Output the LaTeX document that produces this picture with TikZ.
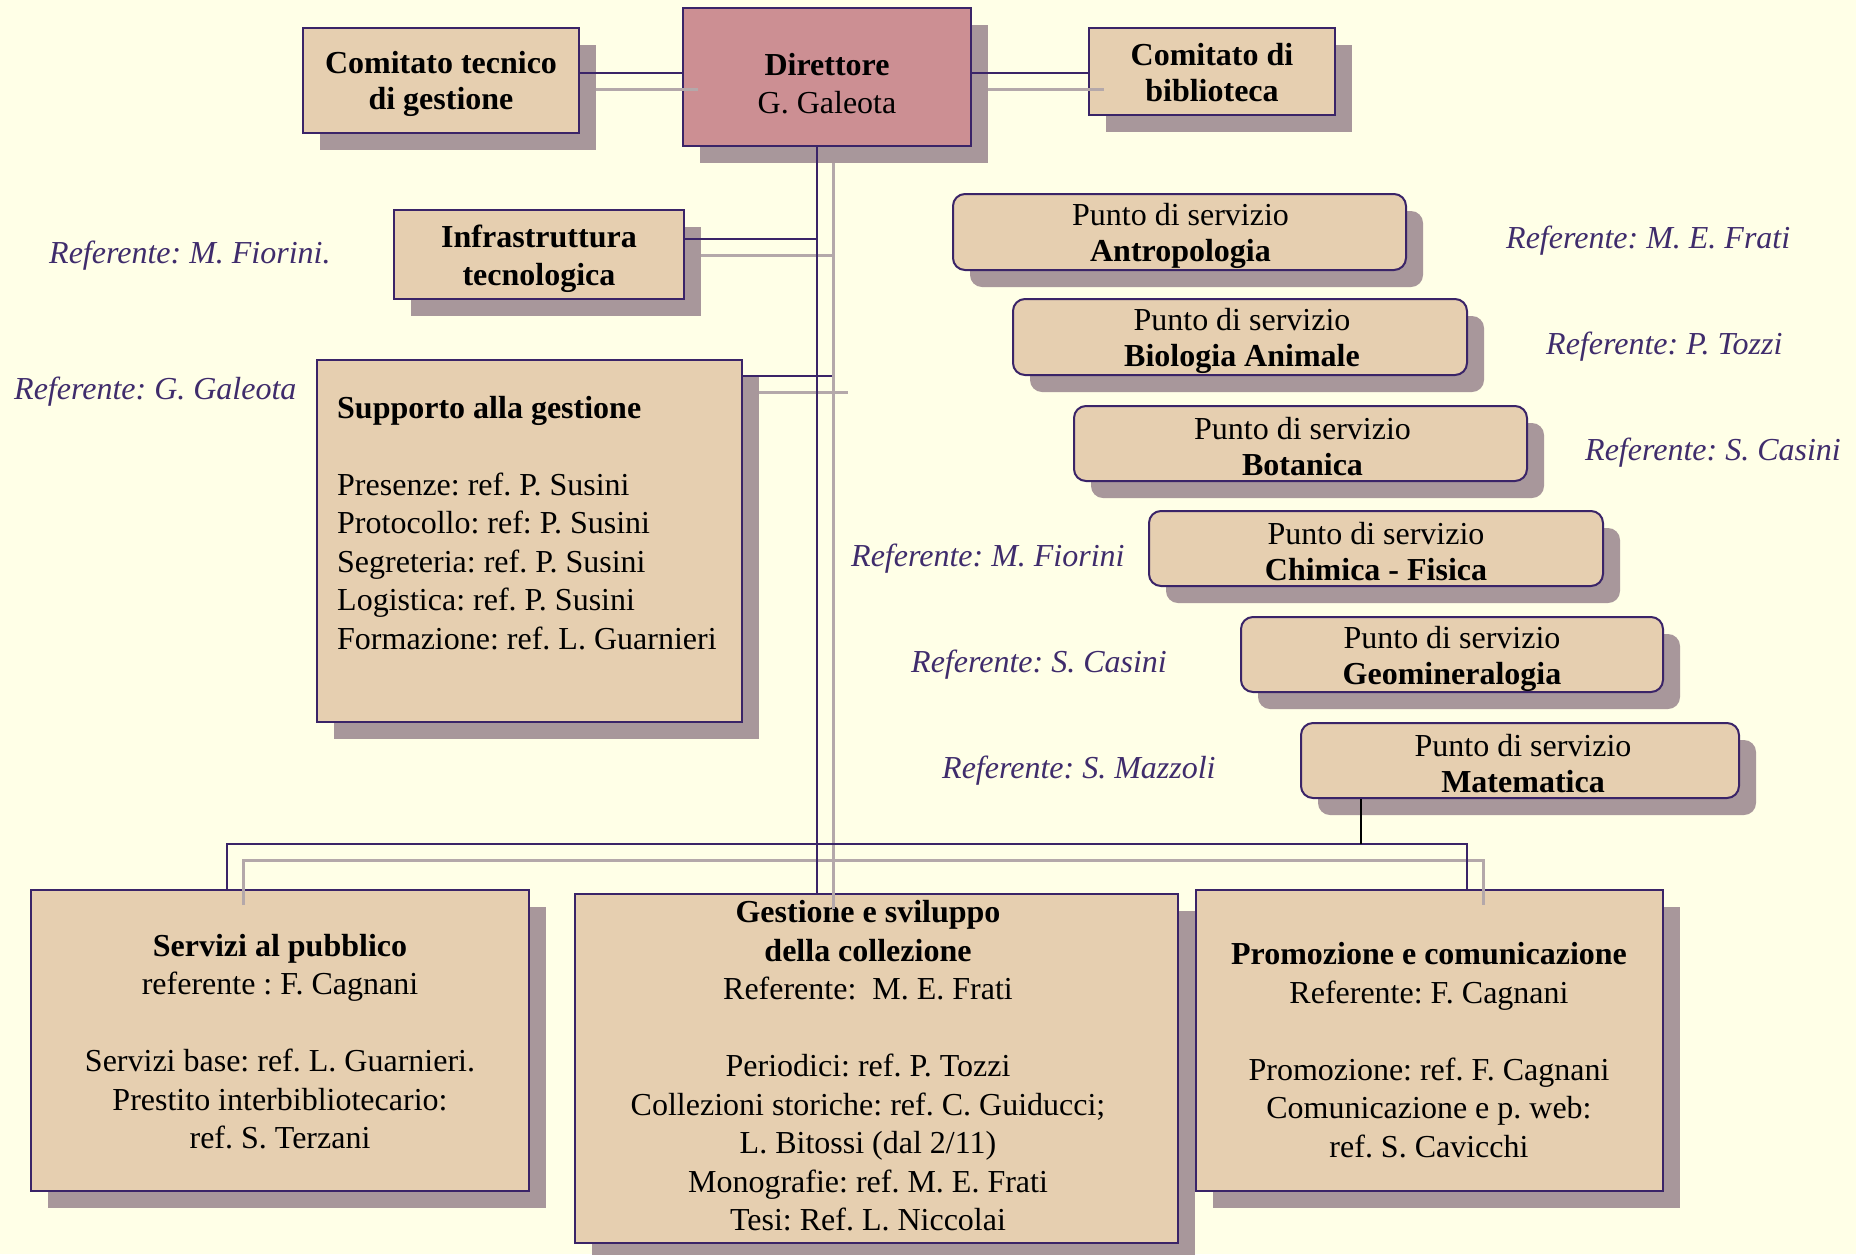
\documentclass[tikz,border=0pt]{standalone}
\usepackage{fontspec}
\setmainfont{Liberation Serif}
\usetikzlibrary{shadows}
\definecolor{bgc}{HTML}{FFFFE7}
\definecolor{tanc}{HTML}{E6CFB0}
\definecolor{pinkc}{HTML}{CC8F93}
\definecolor{shc}{HTML}{A8979B}
\definecolor{lnc}{HTML}{3A2468}
\definecolor{lsh}{HTML}{B4A8AA}
\definecolor{refc}{HTML}{3F2C6C}
\begin{document}
\frenchspacing
\begin{tikzpicture}[x=1pt,y=-1pt,
  box/.style={draw=lnc, line width=2pt, fill=tanc, inner sep=0pt,
     drop shadow={shadow xshift=17pt, shadow yshift=-17pt, fill=shc, opacity=1}},
  punto/.style={box, rounded corners=12pt},
  st/.style={inner sep=0pt, align=center, font=\fontsize{32}{36}\selectfont},
  txt/.style={inner sep=0pt, font=\fontsize{32}{38.5}\selectfont},
  refl/.style={text=refc, font=\fontsize{32}{38}\selectfont\itshape, anchor=west, inner sep=0pt},
  conn/.style={draw=lnc, line width=2pt},
  connk/.style={draw=black, line width=2pt},
  connsh/.style={draw=lsh, line width=3pt}]
\useasboundingbox (0,0) rectangle (1856,1254);
\fill[bgc] (0,0) rectangle (1856,1254);

% boxes
\node[box, minimum width=276pt, minimum height=105pt] (ctg) at (441,80.5) {};
\node[st] (ctgT) at ([yshift=-3pt]ctg.center) {\textbf{Comitato tecnico}\\\textbf{di gestione}};
\node[box, fill=pinkc, minimum width=288pt, minimum height=138pt] (dir) at (827,77) {};
\node[st, font=\fontsize{32}{38}\selectfont] (dirT) at ([yshift=-7pt]dir.center) {\textbf{Direttore}\\G. Galeota};
\node[box, minimum width=246pt, minimum height=87pt] (cbib) at (1212,71.5) {};
\node[st] (cbibT) at ([yshift=-1.5pt]cbib.center) {\textbf{Comitato di}\\\textbf{biblioteca}};
\node[box, minimum width=290pt, minimum height=89pt] (infra) at (539,254.5) {};
\node[st, font=\fontsize{32}{38}\selectfont] (infraT) at ([yshift=-4.5pt]infra.center) {\textbf{Infrastruttura}\\\textbf{tecnologica}};
\node[box, minimum width=425pt, minimum height=362pt] (sup) at (529.5,541) {};
\node[txt, anchor=west, align=left] (supT) at (337,523) {\textbf{Supporto alla gestione}\\[38.5pt]
Presenze: ref. P. Susini\\Protocollo: ref: P. Susini\\Segreteria: ref. P. Susini\\Logistica: ref. P. Susini\\Formazione: ref. L. Guarnieri};

\node[punto, minimum width=453pt, minimum height=76pt] (antr) at (1179.5,232) {};
\node[st] (antrT) at ([yshift=-3.5pt,xshift=1pt]antr.center) {Punto di servizio\\\textbf{Antropologia}};
\node[punto, minimum width=454pt, minimum height=76pt] (bio) at (1240,337) {};
\node[st] (bioT) at ([yshift=-3.5pt,xshift=2pt]bio.center) {Punto di servizio\\\textbf{Biologia Animale}};
\node[punto, minimum width=453pt, minimum height=75pt] (bot) at (1300.5,443.5) {};
\node[st] (botT) at ([yshift=-3.5pt,xshift=2pt]bot.center) {Punto di servizio\\\textbf{Botanica}};
\node[punto, minimum width=454pt, minimum height=75pt] (chim) at (1376,548.5) {};
\node[st] (chimT) at ([yshift=-3.5pt]chim.center) {Punto di servizio\\\textbf{Chimica - Fisica}};
\node[punto, minimum width=422pt, minimum height=75pt] (geo) at (1452,654.5) {};
\node[st] (geoT) at ([yshift=-4pt]geo.center) {Punto di servizio\\\textbf{Geomineralogia}};
\node[punto, minimum width=438pt, minimum height=75pt] (mat) at (1520,760.5) {};
\node[st] (matT) at ([yshift=-3.5pt,xshift=3pt]mat.center) {Punto di servizio\\\textbf{Matematica}};

\node[box, minimum width=498pt, minimum height=301pt] (serv) at (280,1040.5) {};
\node[txt, align=center] (servT) at (280,1041.5) {\textbf{Servizi al pubblico}\\referente : F. Cagnani\\[38.5pt]
Servizi base: ref. L. Guarnieri.\\Prestito interbibliotecario:\\ref. S. Terzani};
\node[box, minimum width=603pt, minimum height=349pt] (gest) at (876.5,1068.5) {};
\node[txt, align=center] (gestT) at (868,1066) {\textbf{Gestione e sviluppo}\\\textbf{della collezione}\\Referente:\ \ M. E. Frati\\[38.5pt]
Periodici: ref. P. Tozzi\\Collezioni storiche: ref. C. Guiducci;\\L. Bitossi (dal 2/11)\\Monografie: ref. M. E. Frati\\Tesi: Ref. L. Niccolai};
\node[box, minimum width=467pt, minimum height=301pt] (prom) at (1429.5,1040.5) {};
\node[txt, align=center] (promT) at (1429,1050) {\textbf{Promozione e comunicazione}\\Referente: F. Cagnani\\[38.5pt]
Promozione: ref. F. Cagnani\\Comunicazione e p. web:\\ref. S. Cavicchi};

% referente labels
\node[refl] (r1) at (49,255.5) {Referente: M. Fiorini.};
\node[refl] (r2) at (14,391.5) {Referente: G. Galeota};
\node[refl] (r3) at (1506,240.5) {Referente: M. E. Frati};
\node[refl] (r4) at (1546,346.5) {Referente: P. Tozzi};
\node[refl] (r5) at (1585,452.5) {Referente: S. Casini};
\node[refl] (r6) at (851,558.5) {Referente: M. Fiorini};
\node[refl] (r7) at (911,664.5) {Referente: S. Casini};
\node[refl] (r8) at (942,770.5) {Referente: S. Mazzoli};

% helper coordinates
\coordinate (yCT) at (0,73);
\coordinate (xT) at (817,0);
\coordinate (xT2) at (832,0);
\coordinate (yIn) at (0,239);
\coordinate (ySu) at (0,376);
\coordinate (yBus) at (0,844);
\coordinate (xL) at (227,0);
\coordinate (xR) at (1467,0);
\coordinate (xM) at (1361,0);

% connector shadows
\begin{scope}[transform canvas={xshift=16pt,yshift=-16pt}]
\draw[connsh] (ctg.east |- yCT) -- (dir.west |- yCT);
\draw[connsh] (dir.east |- yCT) -- (cbib.west |- yCT);
\draw[connsh] (dir.south -| xT) -- (gest.north -| xT);
\draw[connsh] (infra.east |- yIn) -- (xT |- yIn);
\draw[connsh] (sup.east |- ySu) -- (xT2 |- ySu);
\draw[connsh] (serv.north -| xL) -- (xL |- yBus) -- (xR |- yBus) -- (prom.north -| xR);
\end{scope}

% connectors
\draw[conn] (ctg.east |- yCT) -- (dir.west |- yCT);
\draw[conn] (dir.east |- yCT) -- (cbib.west |- yCT);
\draw[conn] (dir.south -| xT) -- (gest.north -| xT);
\draw[conn] (infra.east |- yIn) -- (xT |- yIn);
\draw[conn] (sup.east |- ySu) -- (xT2 |- ySu);
\draw[conn] (serv.north -| xL) -- (xL |- yBus) -- (xR |- yBus) -- (prom.north -| xR);
\draw[connk] (mat.south -| xM) -- (xM |- yBus);
\end{tikzpicture}
\end{document}
